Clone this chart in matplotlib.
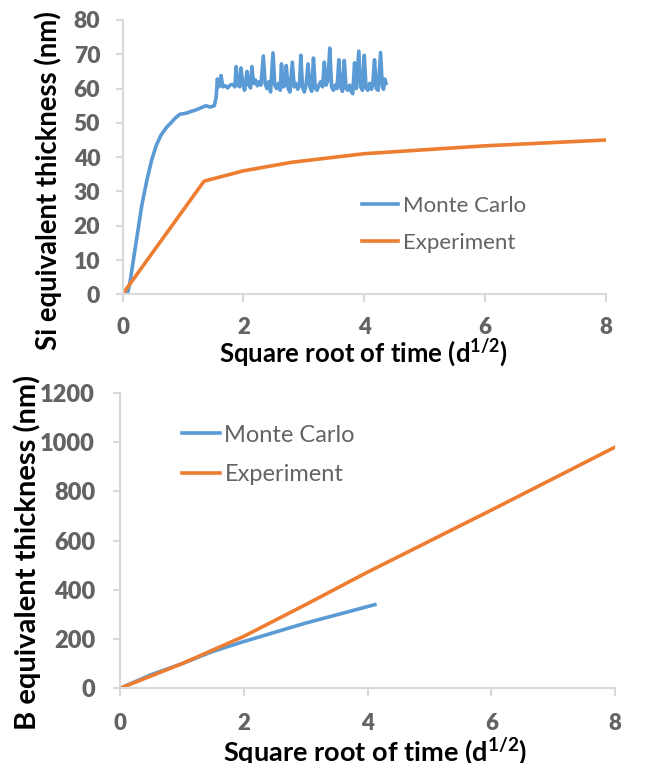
import matplotlib
matplotlib.use("Agg")
from matplotlib import pyplot as plt

plt.rcParams['font.family'] = ['Lato', 'DejaVu Sans']
plt.rcParams['mathtext.fontset'] = 'custom'
plt.rcParams['mathtext.rm'] = 'Lato:bold'
plt.rcParams['mathtext.bf'] = 'Lato:bold'

BLUE = "#5B9BD5"
ORANGE = "#ED7D31"
GRID = "#D9D9D9"
TXT = "#636363"

# Si: Monte Carlo simulation (noisy after ~1.5 d^1/2)
mc_si_x = [0.08, 0.12, 0.18, 0.25, 0.32, 0.40, 0.48, 0.56, 0.64, 0.72, 0.80, 0.88, 0.95,
           1.05, 1.13, 1.22, 1.30, 1.38, 1.45, 1.52, 1.55, 1.57, 1.59, 1.61, 1.63, 1.66,
           1.70, 1.74, 1.78, 1.82, 1.86, 1.88, 1.91, 1.94, 1.96, 1.99, 2.02, 2.06, 2.09,
           2.12, 2.14, 2.17, 2.20, 2.23, 2.26, 2.29, 2.33, 2.36, 2.39, 2.42, 2.45, 2.49,
           2.52, 2.55, 2.58, 2.61, 2.63, 2.66, 2.69, 2.71, 2.74, 2.77, 2.81, 2.84, 2.87,
           2.90, 2.93, 2.95, 2.98, 3.01, 3.04, 3.07, 3.10, 3.13, 3.16, 3.19, 3.22, 3.25,
           3.28, 3.31, 3.34, 3.37, 3.40, 3.43, 3.46, 3.49, 3.52, 3.55, 3.58, 3.61, 3.64,
           3.67, 3.70, 3.73, 3.76, 3.79, 3.81, 3.84, 3.87, 3.91, 3.94, 3.97, 4.00, 4.03,
           4.06, 4.09, 4.12, 4.14, 4.17, 4.20, 4.23, 4.27, 4.30, 4.32, 4.34, 4.36]
mc_si_y = [0, 3, 10, 18, 26, 33, 39, 43.5, 46.5, 48.5, 50, 51.5, 52.5,
           52.8, 53.3, 53.8, 54.4, 55.0, 54.6, 55.0, 57.5, 62.8, 60.5, 60.8, 63.8, 60.5,
           60.8, 60.2, 61.0, 61.2, 60.5, 66.4, 61.0, 60.5, 66.0, 61.5, 59.5, 65.0, 61.0,
           60.2, 66.4, 61.5, 62.5, 60.8, 62.0, 61.0, 69.5, 61.5, 60.0, 62.0, 59.0, 70.4,
           61.0, 60.0, 61.5, 59.5, 67.2, 60.5, 61.0, 66.7, 60.0, 59.0, 67.7, 60.5, 61.5,
           59.8, 61.0, 69.7, 60.2, 59.0, 61.5, 67.2, 60.5, 59.2, 68.9, 60.0, 59.5, 61.0,
           62.0, 60.5, 67.7, 61.0, 62.5, 71.8, 60.5, 59.5, 61.0, 60.0, 68.4, 60.5, 59.2,
           68.2, 60.0, 59.5, 61.0, 59.0, 58.5, 67.5, 60.0, 70.9, 60.5, 59.5, 69.7, 60.2,
           59.5, 61.5, 59.8, 61.0, 68.4, 60.0, 59.5, 70.5, 60.5, 59.8, 62.8, 61.5]

# Si: experiment
exp_si_x = [0, 1.35, 2.0, 2.8, 4.0, 6.0, 8.0]
exp_si_y = [0, 33, 36, 38.5, 41, 43.3, 45]

# B: Monte Carlo and experiment
mc_b_x = [0, 0.5, 1.0, 1.5, 2.0, 3.0, 4.12]
mc_b_y = [0, 55, 100, 150, 190, 265, 340]
exp_b_x = [0, 1.0, 2.0, 3.0, 4.0, 5.0, 6.0, 7.0, 8.0]
exp_b_y = [0, 100, 211, 340, 472, 598, 724, 852, 980]

xticks = [0, 2, 4, 6, 8]
si_yticks = list(range(0, 81, 10))
b_yticks = list(range(0, 1201, 200))

xlab = r'Square root of time (d$^{\mathbf{1/2}}$)'

fig = plt.figure(figsize=(6.53, 7.63), dpi=100)
ax1 = fig.add_axes([0.1876, 0.6143, 0.7404, 0.3595])
ax2 = fig.add_axes([0.1838, 0.0979, 0.758, 0.387])


def style(ax, yticks, ylim, xpad, ypad, ysize):
    ax.set_xlim(0, 8)
    ax.set_ylim(*ylim)
    ax.set_xticks(xticks)
    ax.set_yticks(yticks)
    for s in ['top', 'right']:
        ax.spines[s].set_visible(False)
    for s in ['left', 'bottom']:
        ax.spines[s].set_color(GRID)
        ax.spines[s].set_linewidth(1.5)
    ax.tick_params(axis='x', direction='out', length=6, width=1.5, color=GRID,
                   labelsize=16, labelcolor=TXT, pad=xpad)
    ax.tick_params(axis='y', direction='out', length=5, width=1.5, color=GRID,
                   labelsize=ysize, labelcolor=TXT, pad=ypad)
    for lab in ax.get_xticklabels() + ax.get_yticklabels():
        lab.set_fontweight('heavy')


ax1.plot(mc_si_x, mc_si_y, color=BLUE, lw=2.6, label='Monte Carlo', solid_joinstyle='round')
ax1.plot(exp_si_x, exp_si_y, color=ORANGE, lw=2.6, label='Experiment')
style(ax1, si_yticks, (0, 80), 10, 11, 16.5)
ax1.set_xlabel(xlab, fontsize=18.5, fontweight='bold', va='baseline')
ax1.set_ylabel('Si equivalent thickness (nm)', fontsize=19.8, fontweight='bold', va='center')
ax1.xaxis.set_label_coords(0.4995, -0.247)
ax1.yaxis.set_label_coords(-0.154, 0.416)
ax1.legend(loc='upper left', bbox_to_anchor=(0.5544, 0.743), bbox_transform=fig.transFigure,
           frameon=False, fontsize=16, labelcolor=TXT, handlelength=1.6,
           handletextpad=0.23, labelspacing=0.75, borderpad=0, borderaxespad=0)

ax2.plot(mc_b_x, mc_b_y, color=BLUE, lw=2.6, label='Monte Carlo')
ax2.plot(exp_b_x, exp_b_y, color=ORANGE, lw=2.6, label='Experiment')
style(ax2, b_yticks, (0, 1200), 12, 13, 17)
ax2.set_xlabel(xlab, fontsize=19.5, fontweight='bold', va='baseline')
ax2.set_ylabel('B equivalent thickness (nm)', fontsize=21, fontweight='bold', va='center')
ax2.xaxis.set_label_coords(0.516, -0.2465)
ax2.yaxis.set_label_coords(-0.188, 0.46)
ax2.legend(loc='upper left', bbox_to_anchor=(0.2787, 0.4436), bbox_transform=fig.transFigure,
           frameon=False, fontsize=17, labelcolor=TXT, handlelength=1.6,
           handletextpad=0.2, labelspacing=0.8, borderpad=0, borderaxespad=0)

fig.savefig('out.png', dpi=100)
